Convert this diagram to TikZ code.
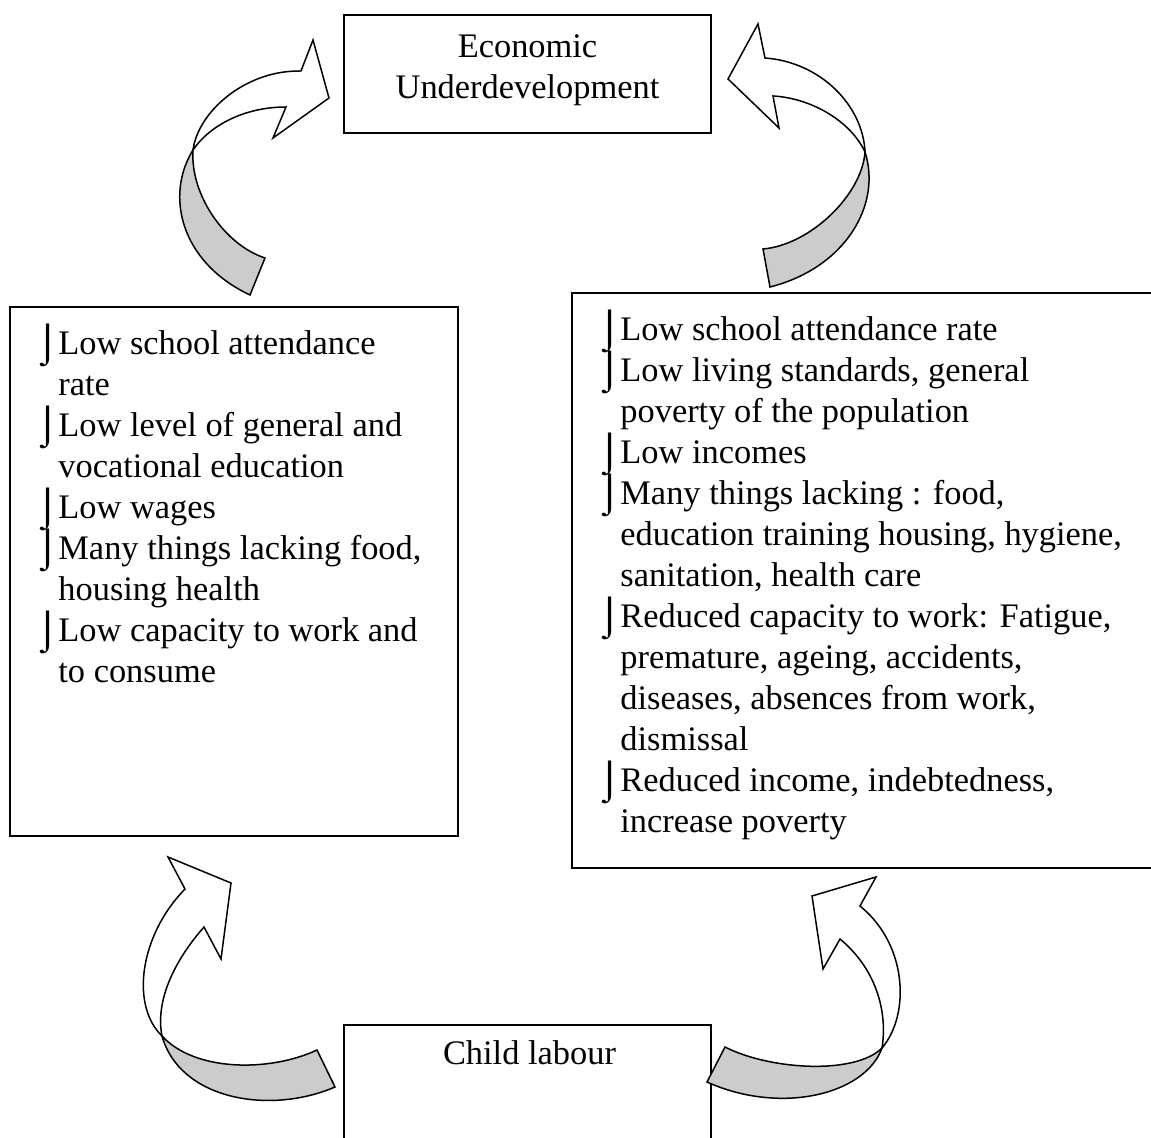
\documentclass[tikz,border=0pt]{standalone}
\usepackage{fontspec}
\usepackage{graphicx}
\setmainfont{Liberation Serif}
\usetikzlibrary{calc}
\usetikzlibrary{positioning}
\tikzstyle{boxnode} = [draw, rectangle, line width=1pt, inner sep=0pt]
\tikzstyle{listnode} = [align=left, inner sep=0pt, anchor=north west]
\tikzstyle{backpart} = [draw, line width=0.75pt, fill=gray!40]
\tikzstyle{frontpart} = [draw, line width=0.75pt, fill=white]
\newcommand{\bulmark}{\makebox[12pt][l]{\smash{\raisebox{-0.8pt}{\scalebox{1.3}[1.1]{⌡}}}}}
\newcommand{\bulgap}{\hspace*{12pt}}
\newcommand{\diagfont}{\fontsize{17.2pt}{20.5pt}\selectfont}

\begin{document}
\begin{tikzpicture}[x=0.5pt, y=-0.5pt, font=\diagfont]
\clip (0,0) rectangle (1151,1138);
\node[boxnode, minimum width=183.5pt, minimum height=59pt] (econ) at (527.5,74) {};
\node[align=center] (econtext) at ($(econ.center)+(0,-4)$) {Economic\\Underdevelopment};
\node[boxnode, minimum width=224pt, minimum height=264.5pt] (leftbox) at (234,571.5) {};
\node[boxnode, minimum width=295pt, minimum height=287.5pt] (rightbox) at (867,580.5) {};
\node[boxnode, minimum width=183.5pt, minimum height=70pt] (child) at (527.5,1095) {};
\node (childtext) at ($(child.north)+(2,29)$) {Child labour};

\node[listnode] (leftlist) at ($(leftbox.north west)+(25,24)$) {\bulmark Low school attendance\\
  \bulgap rate\\
  \bulmark Low level of general and\\
  \bulgap vocational education\\
  \bulmark Low wages\\
  \bulmark Many things lacking food,\\
  \bulgap housing health\\
  \bulmark Low capacity to work and\\
  \bulgap to consume};
\node[listnode] (rightlist) at ($(rightbox.north west)+(25,24)$) {\bulmark Low school attendance rate\\
  \bulmark Low living standards, general\\
  \bulgap poverty of the population\\
  \bulmark Low incomes\\
  \bulmark Many things lacking : food,\\
  \bulgap education training housing, hygiene,\\
  \bulgap sanitation, health care\\
  \bulmark Reduced capacity to work: Fatigue,\\
  \bulgap premature, ageing, accidents,\\
  \bulgap diseases, absences from work,\\
  \bulgap dismissal\\
  \bulmark Reduced income, indebtedness,\\
  \bulgap increase poverty};

\draw[backpart] (193,150) .. controls (165,195) and (180,262) .. (250,295) -- (265,258)
  .. controls (225,245) and (190,195) .. (193,150) -- cycle;
\draw[frontpart] (193,150) .. controls (198,112) and (245,70) .. (301,71) -- (313,40) -- (329,98)
  -- (273,138) -- (286,107) .. controls (245,107) and (210,125) .. (193,150) -- cycle;

\draw[backpart] (865,152) .. controls (882,205) and (845,268) .. (770,287) -- (763,249)
  .. controls (810,245) and (862,195) .. (865,152) -- cycle;
\draw[frontpart] (865,152) .. controls (863,105) and (820,62) .. (765,58) -- (758,24) -- (728,79)
  -- (779,128) -- (773,96) .. controls (810,98) and (850,120) .. (865,152) -- cycle;

\draw[backpart] (162,1036) .. controls (180,1100) and (270,1115) .. (335,1087) -- (317,1050)
  .. controls (270,1072) and (195,1072) .. (162,1036) -- cycle;
\draw[frontpart] (162,1036) .. controls (130,1005) and (140,935) .. (185,889) -- (168,857) -- (231,883)
  -- (221,959) -- (204,927) .. controls (175,960) and (155,1000) .. (162,1036) -- cycle;

\draw[backpart] (882,1048) .. controls (865,1095) and (780,1115) .. (707,1082) -- (725,1047)
  .. controls (770,1070) and (855,1075) .. (882,1048) -- cycle;
\draw[frontpart] (882,1048) .. controls (910,1015) and (908,945) .. (860,906) -- (876,877) -- (812,896)
  -- (823,969) -- (840,939) .. controls (875,968) and (888,1010) .. (882,1048) -- cycle;
\end{tikzpicture}
\end{document}
